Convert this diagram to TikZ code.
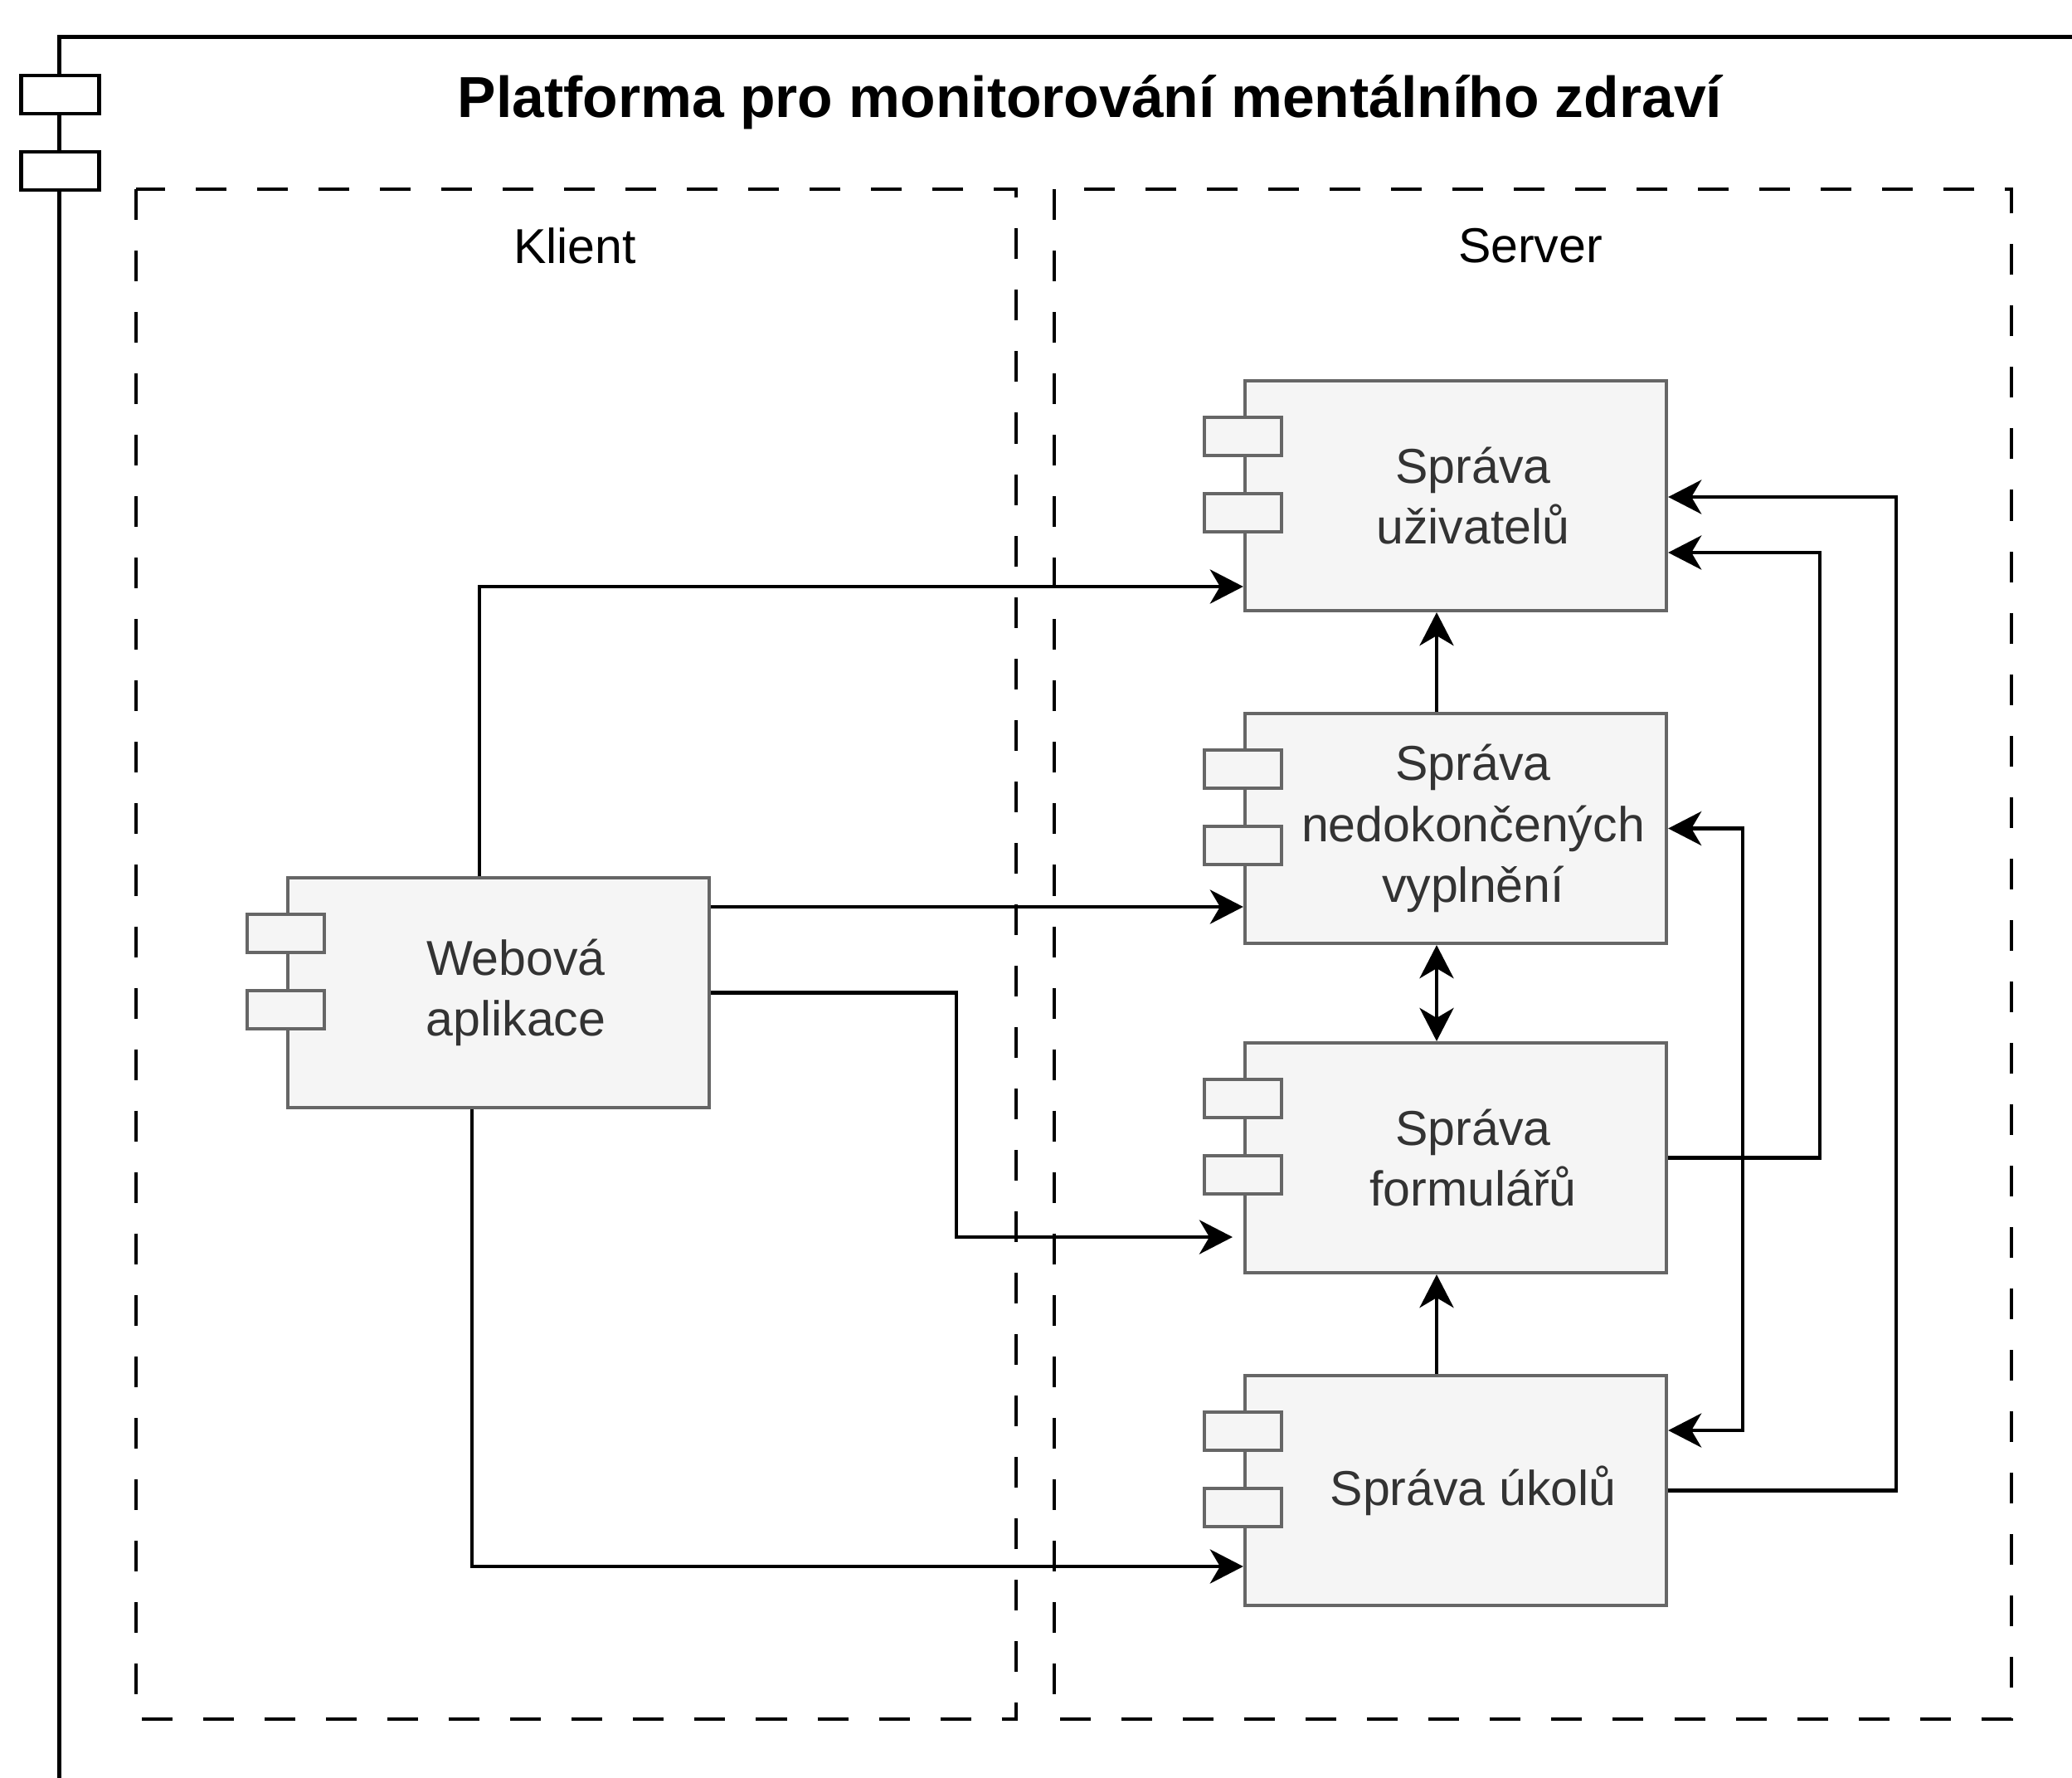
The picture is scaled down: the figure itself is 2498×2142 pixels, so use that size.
\documentclass[tikz,border=0pt]{standalone}
\usepackage{fontspec}
\setmainfont{Liberation Sans}
\usetikzlibrary{arrows.meta,calc}
\definecolor{compfill}{HTML}{F5F5F5}
\definecolor{compline}{HTML}{666666}
\definecolor{comptext}{HTML}{333333}

\tikzset{
  outerline/.style={draw=black, line width=0.045cm},
  outertab/.style={draw=black, fill=white, line width=0.045cm},
  dashbox/.style={draw=black, line width=0.04cm, dash pattern=on 0.37cm off 0.37cm},
  comp/.style={draw=compline, fill=compfill, line width=0.04cm,
    minimum width=5.08cm, minimum height=2.77cm, inner sep=0pt},
  comptab/.style={draw=compline, fill=compfill, line width=0.04cm},
  lbl/.style={text=comptext, align=center, inner sep=0pt,
    font=\fontsize{16.8}{20.8}\selectfont},
  heading/.style={text=black, inner sep=0pt, font=\fontsize{16.8}{20.8}\selectfont},
  titletext/.style={text=black, inner sep=0pt, anchor=base,
    font=\fontsize{19.8}{24}\selectfont\bfseries},
  tip/.tip={Stealth[length=0.4cm, width=0.41cm, inset=0.12cm]},
  conn/.style={draw=black, line width=0.045cm, -tip},
  conntwo/.style={draw=black, line width=0.045cm, tip-tip},
}

% component box with its two tabs and a centred label
\newcommand\compbox[4]{%
  \node[comp] (#1) at (#2,#3) {};
  \draw[comptab] ($(#1.north west)+(-46.5,46)$) rectangle ++(93,46);
  \draw[comptab] ($(#1.north west)+(-46.5,138)$) rectangle ++(93,46);
  \node[lbl] (#1-label) at ([xshift=0.21cm]#1.center) {#4};
}

\begin{document}
\begin{tikzpicture}[x=0.01cm, y=-0.01cm]
  \useasboundingbox (0,0) rectangle (2498,2142);
  \clip (0,0) rectangle (2498,2142);

  % outer system component
  \draw[outerline] (71.7,2300) -- (71.7,44.6) -- (2600,44.6);
  \draw[outertab] (25.5,91) rectangle (119.5,137);
  \draw[outertab] (25.5,183) rectangle (119.5,229);
  \node[titletext] (title) at (1314,141)
    {Platforma pro monitorování mentálního zdraví};

  % client and server boundaries
  \draw[dashbox] (164,228) rectangle (1225,2072);
  \draw[dashbox] (1271,228) rectangle (2425,2072);
  \node[heading] (klient) at (693,296) {Klient};
  \node[heading] (server) at (1845,296) {Server};

  % components
  \compbox{U}{1755}{597.5}{Správa\\uživatelů}
  \compbox{N}{1755}{998.5}{Správa\\nedokončených\\vyplnění}
  \compbox{F}{1755}{1395.5}{Správa\\formulářů}
  \compbox{T}{1755}{1796.5}{Správa úkolů}
  \compbox{W}{601}{1196.5}{Webová\\aplikace}

  % routing points
  \coordinate (k1) at (578,707);
  \coordinate (k2) at (0,1093);
  \coordinate (k3) at (1153,1491);
  \coordinate (k3e) at (1486,1491);
  \coordinate (k4) at (569,1888);
  \coordinate (k5) at (1732,0);
  \coordinate (k8) at (2194,666);
  \coordinate (k9) at (2286,599);
  \coordinate (k10) at (2101,1724);

  % connectors from the web application
  \draw[conn] (W.north -| k1) |- (U.west |- k1);
  \draw[conn] (W.east |- k2) -- (N.west |- k2);
  \draw[conn] (W.east) -| (k3) -- (k3e);
  \draw[conn] (W.south -| k4) |- (T.west |- k4);

  % connectors between server components
  \draw[conn] (N.north -| k5) -- (U.south -| k5);
  \draw[conntwo] (N.south -| k5) -- (F.north -| k5);
  \draw[conn] (T.north -| k5) -- (F.south -| k5);
  \draw[conn] (F.east) -| (k8) -- (U.east |- k8);
  \draw[conn] (T.east) -| (k9) -- (U.east |- k9);
  \draw[conntwo] (N.east) -| (k10) -- (T.east |- k10);
\end{tikzpicture}
\end{document}
